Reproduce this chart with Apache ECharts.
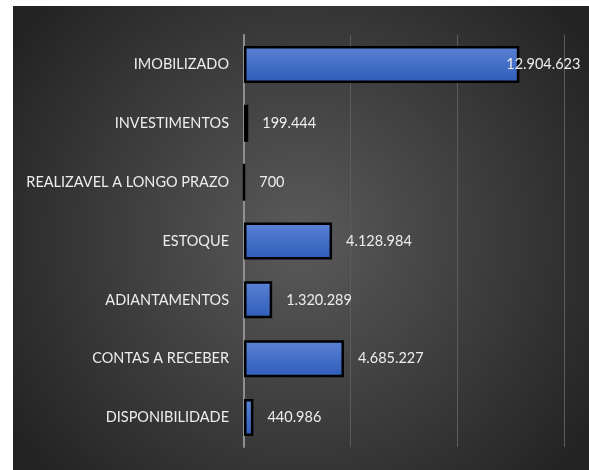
<!DOCTYPE html>
<html>
<head>
<meta charset="utf-8">
<script src="https://cdn.jsdelivr.net/npm/echarts@6/dist/echarts.min.js"></script>
<style>
  html, body { margin: 0; padding: 0; background: #fff; }
  #box { position: absolute; left: 13px; top: 6px; width: 576px; height: 464px; }
</style>
</head>
<body>
<div id="box"></div>
<script>
const categories = ['IMOBILIZADO', 'INVESTIMENTOS', 'REALIZAVEL A LONGO PRAZO', 'ESTOQUE', 'ADIANTAMENTOS', 'CONTAS A RECEBER', 'DISPONIBILIDADE'];
const values = [12904623, 199444, 700, 4128984, 1320289, 4685227, 440986];

function fmt(v) {
  return String(v).replace(/\B(?=(\d{3})+(?!\d))/g, '.');
}

const graph = echarts.init(document.getElementById('box'));
graph.setOption({
  backgroundColor: {
    type: 'radial', x: 0.5, y: 0.5, r: 0.75,
    colorStops: [
      {offset: 0, color: '#5a5a5a'},
      {offset: 1, color: '#232323'}
    ]
  },
  grid: {left: 231, right: 25, top: 29, bottom: 23},
  xAxis: {
    type: 'value',
    min: 0,
    max: 15000000,
    interval: 5000000,
    axisLabel: {show: false},
    axisLine: {show: false},
    axisTick: {show: false},
    splitLine: {lineStyle: {color: '#5c5c5c', width: 1}}
  },
  yAxis: {
    type: 'category',
    inverse: true,
    data: categories,
    axisLine: {lineStyle: {color: '#8f8f8f', width: 2}},
    axisTick: {show: false},
    axisLabel: {
      color: '#ededed',
      fontFamily: 'Lato',
      fontSize: 14.5,
      margin: 15
    }
  },
  series: [{
    type: 'bar',
    barWidth: 37,
    data: values.map((v, i) => i === 0
      ? {value: v, label: {offset: [-27, 0]}}
      : v),
    itemStyle: {
      borderColor: '#000',
      borderWidth: 2.5,
      color: {
        type: 'linear', x: 0, y: 0, x2: 0, y2: 1,
        colorStops: [
          {offset: 0, color: '#5b82d5'},
          {offset: 1, color: '#2e5cb8'}
        ]
      }
    },
    label: {
      show: true,
      position: 'right',
      distance: 14,
      color: '#ededed',
      fontFamily: 'Lato',
      fontSize: 14.5,
      formatter: p => fmt(p.value)
    }
  }]
});
</script>
</body>
</html>
